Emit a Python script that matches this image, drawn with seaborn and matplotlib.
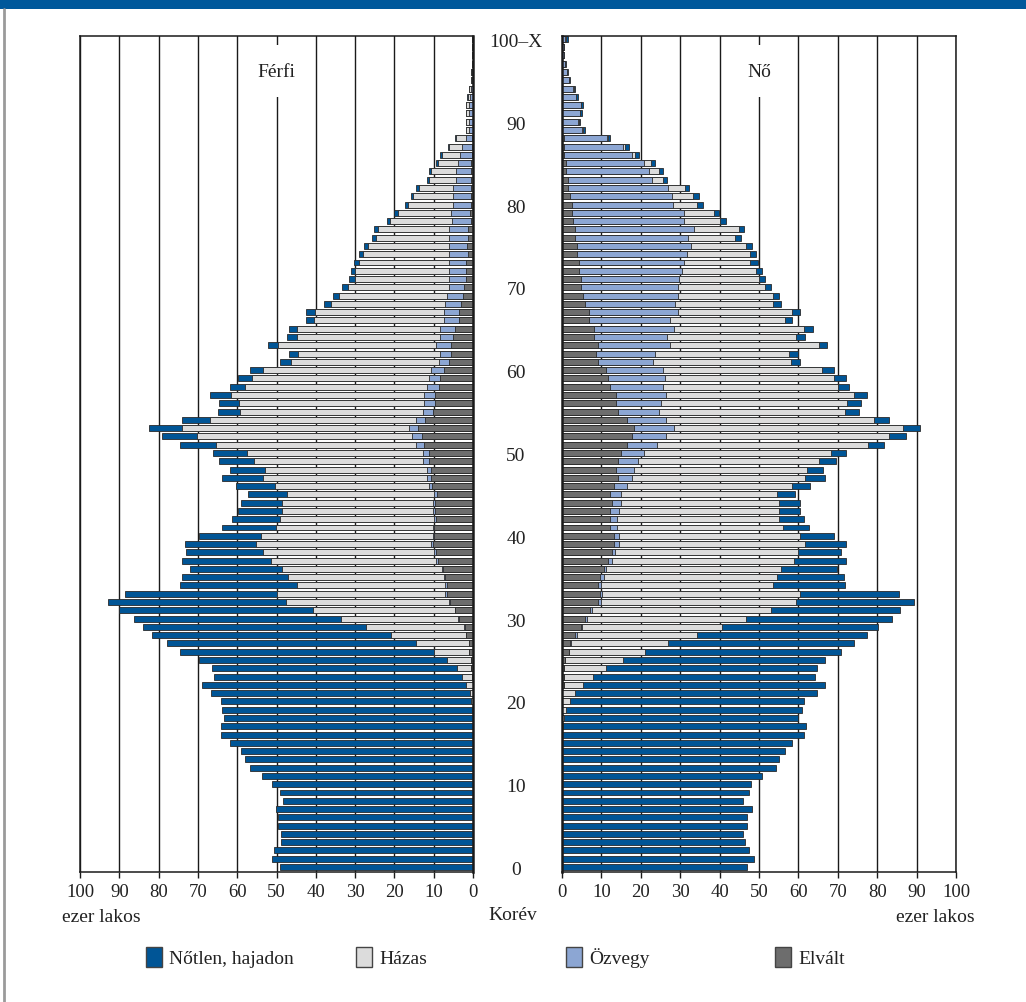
import matplotlib
matplotlib.use('Agg')
import matplotlib.pyplot as plt
import seaborn as sns
import pandas as pd
import numpy as np
from matplotlib.patches import Rectangle
from matplotlib.lines import Line2D
from matplotlib.transforms import blended_transform_factory

# Korév 0..100 (100 = 100 és több)
ages = list(range(101))

# Férfi, ezer lakos
men_notlen = [49.2, 51.1, 50.6, 48.8, 48.8, 49.7, 49.7, 50.1, 48.3, 49.2,
              51.1, 53.8, 56.8, 58.1, 59.0, 61.9, 64.2, 64.2, 63.3, 63.6,
              63.6, 65.8, 67.1, 63.0, 62.5, 63.1, 64.7, 63.4, 60.8, 56.8,
              52.8, 49.4, 45.2, 38.6, 29.6, 26.9, 23.4, 22.6, 19.7, 18.0,
              15.8, 13.7, 12.1, 11.1, 10.3, 10.0, 9.9, 10.4, 9.1, 8.9,
              8.6, 9.0, 8.9, 8.5, 7.1, 5.5, 5.1, 5.3, 3.7, 3.6,
              3.3, 3.0, 2.4, 2.5, 2.4, 1.9, 2.1, 2.4, 1.9, 1.5,
              1.5, 1.4, 1.1, 1.4, 1.0, 1.0, 1.0, 1.0, 0.8, 1.0,
              0.7, 0.7, 0.7, 0.6, 0.6, 0.6, 0.6, 0.4, 0.3, 0.1,
              0.1, 0.1, 0.1, 0.1, 0.1, 0.05, 0.05, 0.05, 0.05, 0.05, 0.05]
men_hazas = [0, 0, 0, 0, 0, 0, 0, 0, 0, 0,
             0, 0, 0, 0, 0, 0, 0, 0, 0, 0.2,
             0.6, 0.8, 1.8, 2.5, 3.6, 6.2, 8.8, 13.5, 19.1, 24.9,
             29.8, 36.0, 41.7, 43.0, 37.9, 39.7, 40.8, 42.1, 43.6, 44.5,
             43.6, 39.8, 39.2, 38.5, 38.5, 37.5, 39.4, 41.7, 41.1, 43.2,
             44.9, 51.1, 54.8, 57.6, 52.5, 46.8, 47.0, 49.2, 46.5, 45.1,
             42.8, 37.5, 36.2, 40.3, 36.6, 36.6, 33.0, 32.8, 29.0, 27.5,
             25.8, 24.1, 23.9, 23.0, 22.0, 20.7, 18.6, 18.2, 15.7, 13.5,
             11.4, 10.2, 8.7, 6.8, 6.4, 5.1, 4.5, 3.2, 2.7, 0.8,
             0.8, 0.8, 0.8, 0.6, 0.4, 0.2, 0.15, 0.1, 0.1, 0.1, 0.1]
men_ozvegy = [0, 0, 0, 0, 0, 0, 0, 0, 0, 0,
              0, 0, 0, 0, 0, 0, 0, 0, 0, 0,
              0, 0, 0, 0, 0, 0, 0.1, 0, 0, 0.1,
              0.1, 0.1, 0.2, 0.3, 0.5, 0.3, 0.3, 0.5, 0.5, 0.6,
              0.5, 0.5, 0.5, 0.6, 0.6, 0.6, 0.7, 1.1, 1.1, 1.3,
              1.3, 1.9, 2.5, 2.4, 2.3, 2.3, 2.8, 2.8, 2.9, 2.8,
              3.3, 2.7, 2.8, 3.8, 3.2, 3.8, 3.8, 3.8, 4.0, 4.0,
              3.8, 4.2, 4.2, 4.2, 4.7, 4.6, 4.7, 4.7, 4.8, 4.8,
              4.6, 4.6, 4.6, 3.8, 3.8, 3.2, 3.0, 2.5, 1.5, 0.8,
              0.8, 0.8, 0.8, 0.6, 0.4, 0.2, 0.2, 0.15, 0.15, 0.1, 0.2]
men_elvalt = [0, 0, 0, 0, 0, 0, 0, 0, 0, 0,
              0, 0, 0, 0, 0, 0, 0, 0, 0, 0,
              0, 0, 0, 0.3, 0.4, 0.4, 0.9, 0.9, 1.7, 2.1,
              3.6, 4.5, 5.8, 6.7, 6.5, 7.2, 7.6, 8.9, 9.3, 10.1,
              9.8, 9.8, 9.5, 9.6, 9.6, 9.2, 10.4, 10.6, 10.6, 11.3,
              11.3, 12.5, 13.0, 14.0, 12.1, 10.3, 9.7, 9.7, 8.7, 8.3,
              7.3, 6.0, 5.5, 5.5, 5.1, 4.5, 3.6, 3.6, 3.1, 2.6,
              2.2, 1.8, 1.8, 1.8, 1.3, 1.4, 1.3, 1.3, 0.6, 0.7,
              0.5, 0.4, 0.5, 0.5, 0.5, 0.5, 0.3, 0.3, 0.2, 0.1,
              0.1, 0.1, 0.1, 0.1, 0.1, 0.05, 0.05, 0.05, 0, 0, 0]

# Nő, ezer lakos
women_notlen = [46.9, 48.7, 47.4, 46.4, 45.9, 46.9, 46.9, 48.3, 45.9, 47.4,
                47.9, 50.8, 54.2, 55.1, 56.6, 58.5, 61.4, 61.6, 59.5, 59.9,
                59.4, 61.4, 61.4, 56.5, 53.6, 51.3, 49.7, 47.3, 43.1, 39.8,
                36.9, 32.9, 29.9, 25.2, 18.4, 16.9, 14.2, 13.1, 11.0, 10.2,
                8.7, 6.8, 6.3, 5.4, 5.3, 4.5, 4.4, 4.9, 4.0, 4.4,
                3.8, 4.0, 4.4, 4.4, 3.9, 3.6, 3.5, 3.4, 2.8, 2.9,
                3.0, 2.4, 2.3, 1.9, 2.3, 2.4, 1.9, 1.9, 1.9, 1.5,
                1.5, 1.5, 1.4, 1.9, 1.5, 1.4, 1.6, 1.5, 1.5, 1.4,
                1.5, 1.5, 1.1, 1.0, 1.0, 1.1, 1.0, 0.8, 0.6, 0.5,
                0.4, 0.4, 0.5, 0.4, 0.4, 0.2, 0.2, 0.2, 0.1, 0.1, 0.4]
women_hazas = [0, 0, 0, 0, 0, 0, 0, 0, 0, 0,
               0, 0, 0, 0, 0, 0, 0, 0.3, 0.4, 1.0,
               2.0, 3.4, 4.8, 7.3, 10.7, 14.6, 19.3, 24.7, 30.5, 35.4,
               40.5, 45.3, 49.6, 50.2, 43.6, 43.9, 44.3, 46.3, 46.4, 47.3,
               45.8, 42.0, 41.0, 40.6, 40.1, 39.6, 41.9, 44.0, 43.9, 45.8,
               47.4, 53.6, 56.6, 58.0, 52.7, 47.2, 47.2, 47.5, 44.5, 43.0,
               40.5, 34.9, 33.9, 37.8, 32.9, 32.8, 29.1, 29.0, 25.0, 24.1,
               22.1, 20.3, 18.9, 16.9, 16.0, 14.0, 11.9, 11.4, 9.1, 7.6,
               6.1, 5.3, 4.2, 2.8, 2.4, 1.9, 0.9, 0.5, 0.3, 0.1,
               0.1, 0.1, 0.1, 0.1, 0.1, 0.1, 0.05, 0, 0, 0, 0.3]
women_ozvegy = [0, 0, 0, 0, 0, 0, 0, 0, 0, 0,
                0, 0, 0, 0, 0, 0, 0, 0, 0, 0,
                0, 0, 0, 0, 0, 0, 0.1, 0.2, 0.3, 0.3,
                0.5, 0.6, 0.7, 0.5, 0.7, 1.0, 0.5, 0.9, 0.9, 1.4,
                1.4, 1.9, 1.9, 2.4, 2.4, 2.9, 3.5, 3.7, 4.8, 5.3,
                5.8, 7.5, 8.6, 10.1, 9.9, 10.5, 11.6, 12.9, 13.5, 14.4,
                14.4, 13.9, 15.0, 18.3, 18.4, 20.3, 20.7, 22.7, 22.8, 24.2,
                24.7, 25.0, 26.2, 26.7, 28.0, 29.1, 28.6, 30.1, 28.1, 28.4,
                25.7, 25.9, 25.6, 21.4, 21.2, 19.7, 17.3, 15.2, 10.9, 5.1,
                4.0, 4.4, 4.7, 3.4, 2.9, 1.7, 1.15, 0.8, 0.5, 0.5, 0.6]
women_elvalt = [0, 0, 0, 0, 0, 0, 0, 0, 0, 0,
                0, 0, 0, 0, 0, 0, 0, 0, 0, 0,
                0, 0, 0.5, 0.5, 0.5, 0.8, 1.7, 2.0, 3.4, 4.8,
                5.8, 7.1, 9.2, 9.7, 9.2, 9.7, 10.7, 11.7, 12.6, 13.1,
                13.1, 12.1, 12.1, 12.1, 12.6, 12.1, 13.1, 14.1, 13.6, 14.1,
                15.0, 16.5, 17.8, 18.4, 16.5, 14.1, 13.6, 13.6, 12.1, 11.7,
                11.2, 9.2, 8.7, 9.2, 8.2, 8.2, 6.8, 6.8, 5.8, 5.3,
                4.8, 4.8, 4.2, 4.2, 3.7, 3.7, 3.3, 3.3, 2.9, 2.5,
                2.5, 2.0, 1.4, 1.4, 1.0, 1.0, 0.4, 0.4, 0.4, 0.1,
                0.1, 0.1, 0.1, 0.1, 0, 0, 0, 0, 0, 0, 0.1]

categories = ['Nőtlen, hajadon', 'Házas', 'Özvegy', 'Elvált']
colors = ['#005596', '#dcdcdc', '#8ca6d3', '#6d6d6d']
edge = '#2a2a2a'
age_ticks = [0, 10, 20, 30, 40, 50, 60, 70, 80, 90, 100]
age_labels = ['0', '10', '20', '30', '40', '50', '60', '70', '80', '90', '100–X']

sns.set_style('white')
plt.rcParams['font.family'] = ['Liberation Serif', 'DejaVu Serif']
plt.rcParams['text.color'] = '#222222'

W, H = 1026, 1003
fig = plt.figure(figsize=(W / 100, H / 100), dpi=100)
axL = fig.add_axes([80 / W, 1 - 873 / H, 393 / W, 836 / H])
axR = fig.add_axes([562 / W, 1 - 873 / H, 394 / W, 836 / H])


def draw_side(ax, notlen, hazas, ozvegy, elvalt):
    df = pd.DataFrame({'age': ages, 'N': notlen, 'H': hazas, 'O': ozvegy, 'E': elvalt})
    # stacked from the centre outwards: Elvált, Özvegy, Házas, Nőtlen
    df['s4'] = df.E
    df['s3'] = df.E + df.O
    df['s2'] = df.E + df.O + df.H
    df['s1'] = df.E + df.O + df.H + df.N
    for col, c in zip(['s1', 's2', 's3', 's4'], colors):
        sns.barplot(data=df, x=col, y='age', orient='h', native_scale=True,
                    color=c, saturation=1, width=0.72, errorbar=None,
                    edgecolor=edge, linewidth=0.6, ax=ax)
    ax.set_ylim(-0.6, 100.35)
    ax.set_xticks(range(0, 101, 10))
    ax.set_yticks([])
    ax.set_xlabel('')
    ax.set_ylabel('')
    ax.grid(axis='x', color='#1a1a1a', linewidth=1.0)
    ax.grid(axis='y', visible=False)
    ax.set_axisbelow(True)
    for sp in ax.spines.values():
        sp.set_visible(True)
        sp.set_color('#1a1a1a')
        sp.set_linewidth(1.1)
    ax.tick_params(axis='x', direction='out', length=4, width=1, color='#1a1a1a',
                   pad=4, labelsize=13.5, bottom=True, labelcolor='#222222')


draw_side(axL, men_notlen, men_hazas, men_ozvegy, men_elvalt)
axL.set_xlim(100, 0)
axL.spines['right'].set_linewidth(1.8)
draw_side(axR, women_notlen, women_hazas, women_ozvegy, women_elvalt)
axR.set_xlim(0, 100)
axR.spines['left'].set_linewidth(1.8)

box = dict(boxstyle='square,pad=0.9', fc='white', ec='none')
axL.text(50, 96.1, 'Férfi', ha='center', va='center', fontsize=14, bbox=box)
axR.text(50, 96.1, 'Nő', ha='center', va='center', fontsize=14, bbox=box)

# korév feliratok középen
tr = blended_transform_factory(fig.transFigure, axL.transData)
for a, lab in zip(age_ticks, age_labels):
    fig.text(516 / W, a - 0.3, lab, transform=tr, ha='center', va='center', fontsize=14)

fig.text(513 / W, 1 - 920 / H, 'Korév', ha='center', va='baseline', fontsize=14)
fig.text(62 / W, 1 - 922 / H, 'ezer lakos', ha='left', va='baseline', fontsize=14)
fig.text(975 / W, 1 - 922 / H, 'ezer lakos', ha='right', va='baseline', fontsize=14)

# jelmagyarázat
leg_x = [146, 356, 566, 775]
for x0, lab, c in zip(leg_x, categories, colors):
    fig.patches.append(Rectangle((x0 / W, 1 - 968 / H), 16 / W, 20 / H,
                                 transform=fig.transFigure, fc=c, ec='#444444', lw=1.0))
    fig.text((x0 + 23) / W, 1 - 964 / H, lab, ha='left', va='baseline', fontsize=14)

# keret: kék sáv felül, szürke vonal bal oldalt
fig.patches.append(Rectangle((0, 1 - 10 / H), 1, 10 / H, transform=fig.transFigure,
                             fc='#00589b', ec='none'))
fig.lines.append(Line2D([4 / W, 4 / W], [0, 1 - 10 / H], transform=fig.transFigure,
                        color='#9a9a9a', lw=2))

fig.savefig('out.png', dpi=100)
